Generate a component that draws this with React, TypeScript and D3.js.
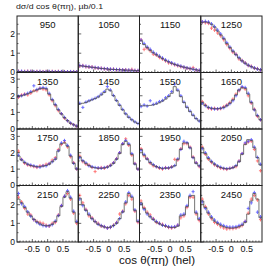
import React from "react";
import * as d3 from "d3";

const energies = ["950","1050","1150","1250","1350","1450","1550","1650","1750","1850","1950","2050","2150","2250","2350","2450"];
const rowYMax = [2.93, 3.4, 3.45, 3.03];
const yTickLabels = [["0","1","2"],["0","1","2","3"],["0","1","2","3"],["0","1","2"]];
const xTickValues = [-0.5, 0, 0.5];
const xTickLabels = ["-0.5", "0", "0.5"];
const binCenters = d3.range(20).map((i) => -0.95 + i * 0.1);

const hist950 = [0.05,0.05,0.05,0.05,0.04,0.04,0.04,0.04,0.04,0.04,0.04,0.04,0.04,0.04,0.03,0.03,0.03,0.03,0.03,0.03];
const red950 = [0.06,0.04,0.05,0.06,0.05,0.03,0.05,0.04,0.04,0.05,0.03,0.05,0.04,0.05,0.03,0.04,0.03,0.02,0.04,0.03];
const blue950 = [0.05,0.06,0.04,0.05,0.05,0.04,0.04,0.05,0.03,0.04,0.05,0.04,0.03,0.04,0.04,0.03,0.03,0.04,0.03,0.03];

const hist1050 = [0.35,0.33,0.31,0.29,0.27,0.25,0.23,0.21,0.2,0.18,0.17,0.16,0.15,0.14,0.13,0.12,0.12,0.11,0.1,0.1];
const red1050 = [0.33,0.36,0.3,0.28,0.29,0.24,0.22,0.22,0.19,0.18,0.16,0.17,0.14,0.15,0.13,0.14,0.11,0.16,0.1,0.09];
const blue1050 = [0.36,0.34,0.32,0.3,0.27,0.26,0.24,0.21,0.2,0.19,0.17,0.16,0.15,0.14,0.13,0.12,0.12,0.11,0.1,0.1];

const hist1150 = [1.65,1.45,1.3,1.15,1.02,0.92,0.82,0.72,0.63,0.55,0.48,0.42,0.37,0.32,0.28,0.24,0.2,0.17,0.14,0.11];
const red1150 = [1.7,1.2,1.25,1.12,0.95,0.9,0.78,0.7,0.6,0.5,0.46,0.4,0.35,0.3,0.26,0.22,0.19,0.25,0.13,0.1];
const blue1150 = [1.68,1.5,1.32,1.2,1.05,0.95,0.85,0.75,0.65,0.57,0.5,0.43,0.38,0.33,0.28,0.24,0.21,0.17,0.14,0.11];

const hist1250 = [2.6,2.62,2.6,2.5,2.35,2.15,1.95,1.75,1.5,1.3,1.1,0.92,0.75,0.6,0.48,0.38,0.3,0.23,0.18,0.14];
const red1250 = [2.62,2.58,2.55,2.3,2.2,2.05,1.9,1.7,1.45,1.25,1.05,0.95,0.7,0.62,0.5,0.36,0.32,0.22,0.2,0.13];
const blue1250 = [2.63,2.65,2.62,2.52,2.38,2.2,2.0,1.78,1.55,1.32,1.12,0.93,0.77,0.6,0.48,0.38,0.3,0.24,0.18,0.14];

const hist1350 = [1.95,2.0,2.05,2.12,2.2,2.28,2.35,2.42,2.45,2.42,2.1,1.75,1.45,1.15,0.9,0.68,0.5,0.35,0.25,0.17];
const red1350 = [1.9,2.05,2.1,2.05,2.15,2.3,2.3,2.45,2.4,2.35,2.05,1.7,1.4,1.1,0.92,0.65,0.5,0.33,0.26,0.16];
const blue1350 = [1.97,2.0,2.08,2.15,2.25,2.6,2.38,2.45,2.5,2.45,2.15,1.78,1.48,1.18,0.92,0.7,0.5,0.36,0.25,0.18];

const hist1450 = [1.5,1.55,1.6,1.68,1.75,1.83,1.92,2.05,2.2,2.4,2.3,2.0,1.7,1.42,1.15,0.9,0.7,0.55,0.42,0.33];
const red1450: number[] = [];
const blue1450 = [1.55,1.3,1.62,1.7,1.78,1.85,1.95,2.1,2.25,2.55,2.35,2.02,1.72,1.45,1.18,0.92,0.72,0.56,0.43,0.33];

const hist1550 = [1.4,1.4,1.4,1.42,1.45,1.5,1.58,1.68,1.8,1.95,2.15,2.55,2.3,1.95,1.6,1.3,1.05,0.82,0.62,0.48];
const red1550: number[] = [];
const blue1550 = [1.35,1.45,1.38,1.7,1.48,1.55,1.65,1.72,1.88,2.0,2.25,2.7,2.35,2.0,1.62,1.32,1.08,0.84,0.63,0.48];

const hist1650 = [1.6,1.42,1.3,1.25,1.22,1.22,1.25,1.3,1.4,1.55,1.75,2.05,2.35,2.48,2.45,2.1,1.6,1.15,0.8,0.55];
const red1650 = [1.65,1.45,1.25,1.2,1.25,1.2,1.22,1.35,1.45,1.6,1.8,2.1,2.3,2.5,2.4,2.0,1.55,1.2,0.75,0.55];
const blue1650 = [1.55,1.4,1.3,1.25,1.2,1.22,1.25,1.28,1.4,1.52,1.7,2.0,2.35,2.55,2.5,2.15,1.62,1.15,0.82,0.56];

const hist1750 = [1.8,1.55,1.4,1.3,1.22,1.18,1.15,1.15,1.18,1.22,1.3,1.45,1.6,2.1,2.55,2.6,2.4,1.8,1.35,1.0];
const red1750 = [2.1,1.6,1.35,1.25,1.2,1.15,1.1,1.2,1.22,1.3,1.35,1.55,1.7,2.2,2.5,2.65,2.35,1.75,1.4,1.0];
const blue1750 = [1.85,1.58,1.42,1.3,1.25,1.2,1.15,1.12,1.2,1.2,1.32,1.45,1.62,2.12,2.6,2.75,2.45,1.85,1.35,1.02];

const hist1850 = [1.75,1.5,1.35,1.22,1.12,1.08,1.05,1.05,1.07,1.12,1.2,1.35,1.6,1.95,2.5,2.7,2.5,1.9,1.3,1.0];
const red1850 = [1.8,1.45,1.3,1.25,1.1,0.85,1.05,1.1,1.05,1.15,1.25,1.4,1.65,2.0,2.55,2.85,2.45,1.85,1.35,1.0];
const blue1850 = [1.7,1.52,1.38,1.2,1.15,1.1,1.08,1.05,1.1,1.12,1.22,1.38,1.62,2.0,2.55,2.75,2.55,1.95,1.32,1.0];

const hist1950 = [2.2,1.85,1.6,1.4,1.25,1.15,1.08,1.05,1.05,1.07,1.12,1.2,1.6,2.2,2.6,2.6,2.3,1.7,1.35,1.2];
const red1950 = [2.25,1.8,1.65,1.35,1.2,1.15,1.05,1.0,1.1,1.05,1.15,1.6,1.55,2.25,2.55,2.55,2.35,1.75,1.4,1.15];
const blue1950 = [2.15,1.9,1.62,1.42,1.28,1.15,1.1,1.05,1.07,1.08,1.12,1.22,1.62,2.2,2.7,2.62,2.3,1.7,1.38,1.2];

const hist2050 = [2.3,1.95,1.65,1.45,1.3,1.18,1.1,1.05,1.02,1.03,1.08,1.2,1.45,1.9,2.5,2.8,2.75,2.3,1.7,1.25];
const red2050 = [2.35,1.9,1.6,1.4,1.25,1.15,1.05,1.02,0.98,1.05,1.1,1.15,1.5,1.95,2.55,2.65,2.7,2.2,1.5,0.9];
const blue2050 = [2.25,2.0,1.7,1.48,1.32,1.2,1.12,1.05,1.03,1.05,1.1,1.22,1.48,1.95,2.6,2.7,2.8,2.35,1.72,1.3];

const hist2150 = [2.3,2.1,1.85,1.6,1.4,1.22,1.08,0.97,0.9,0.87,0.88,0.95,1.1,1.4,1.9,2.4,2.7,2.35,1.6,1.05];
const red2150 = [2.4,2.15,1.8,1.5,1.45,1.2,1.1,1.05,1.0,0.9,0.85,1.0,1.05,1.45,1.95,2.45,2.6,2.3,1.55,1.0];
const blue2150 = [2.6,2.05,1.9,1.62,1.38,1.2,1.05,0.95,0.88,0.85,0.87,0.93,1.12,1.42,1.95,2.45,2.75,2.4,1.65,1.1];

const hist2250 = [2.35,2.0,1.7,1.45,1.25,1.08,0.95,0.87,0.8,0.77,0.8,0.88,1.0,1.25,1.6,2.1,2.6,2.4,1.7,1.1];
const red2250 = [2.5,2.1,1.75,1.4,1.3,1.1,1.0,0.85,0.82,0.75,0.78,0.9,1.05,1.5,1.65,2.05,2.5,2.3,1.65,1.05];
const blue2250 = [2.3,1.95,1.7,1.5,1.25,1.1,0.95,0.88,0.82,0.75,0.8,0.88,1.02,1.25,1.62,2.15,2.65,2.45,1.72,1.12];

const hist2350 = [2.1,1.8,1.55,1.35,1.2,1.07,0.97,0.9,0.85,0.8,0.78,0.78,0.85,1.4,1.45,1.9,2.45,2.5,1.55,1.2];
const red2350 = [2.2,1.85,1.6,1.45,1.25,1.05,1.0,0.95,0.85,0.78,0.75,0.8,0.9,1.3,1.4,1.85,2.4,2.4,1.5,1.15];
const blue2350 = [2.05,1.75,1.5,1.35,1.22,1.1,1.0,0.9,0.88,0.82,0.8,0.82,0.9,1.45,1.5,1.95,2.5,2.7,1.6,1.25];

const hist2450 = [2.2,1.85,1.55,1.3,1.12,1.0,0.9,0.82,0.77,0.75,0.75,0.77,0.82,0.9,1.05,1.5,2.2,2.6,2.3,1.3];
const red2450 = [2.3,1.9,1.5,1.25,1.05,0.95,0.82,0.75,0.7,0.72,0.72,0.75,0.8,0.88,1.1,1.55,2.3,2.5,2.25,1.2];
const blue2450 = [2.15,1.8,1.6,1.35,1.18,1.05,0.95,0.88,0.82,0.8,0.8,0.82,0.88,0.95,1.1,1.8,2.1,2.65,1.6,1.35];

const histSeries = [hist950,hist1050,hist1150,hist1250,hist1350,hist1450,hist1550,hist1650,hist1750,hist1850,hist1950,hist2050,hist2150,hist2250,hist2350,hist2450];
const redSeries = [red950,red1050,red1150,red1250,red1350,red1450,red1550,red1650,red1750,red1850,red1950,red2050,red2150,red2250,red2350,red2450];
const blueSeries = [blue950,blue1050,blue1150,blue1250,blue1350,blue1450,blue1550,blue1650,blue1750,blue1850,blue1950,blue2050,blue2150,blue2250,blue2350,blue2450];

const W = 266, H = 266;
const L = 17, R = 262, T = 16, B = 242;
const NC = 4, NR = 4;
const pw = (R - L) / NC;
const ph = (B - T) / NR;
const FONT = "'Liberation Sans', Arial, Helvetica, sans-serif";
const RED = "#ff4040";
const BLUE = "#3c3cff";
const HIST = "#4a4a4a";

function Panel({ idx }: { idx: number }) {
  const col = idx % NC, row = Math.floor(idx / NC);
  const x0 = L + col * pw, y0 = T + row * ph;
  const x = d3.scaleLinear().domain([-1, 1]).range([x0, x0 + pw]);
  const y = d3.scaleLinear().domain([0, rowYMax[row]]).range([y0 + ph, y0]);
  const hist = histSeries[idx];
  const pts: [number, number][] = hist.map((v, i) => [binCenters[i] - 0.05, v]);
  pts.push([1, hist[hist.length - 1]]);
  const line = d3.line<[number, number]>().x((d) => x(d[0])).y((d) => y(d[1])).curve(d3.curveStepAfter);
  const err = 0.07;
  const cross = (vals: number[], color: string, key: string, op: number) =>
    vals.map((v, i) => {
      const cx = x(binCenters[i]);
      const cy = y(v);
      return (
        <g key={key + i} stroke={color} strokeWidth={1} opacity={op}>
          <line x1={x(binCenters[i] - 0.05)} x2={x(binCenters[i] + 0.05)} y1={cy} y2={cy} />
          <line x1={cx} x2={cx} y1={y(v + err) - 0.5} y2={y(v - err) + 0.5} />
        </g>
      );
    });
  const yMinor = d3.range(0, rowYMax[row], 0.5);
  const xMinor = d3.range(-0.9, 1.0, 0.1);
  return (
    <g>
      <defs>
        <clipPath id={"clip" + idx}>
          <rect x={x0} y={y0} width={pw} height={ph} />
        </clipPath>
      </defs>
      <g clipPath={`url(#clip${idx})`}>
        {cross(redSeries[idx], RED, "r", 0.7)}
        {cross(blueSeries[idx], BLUE, "b", 0.75)}
        <path d={line(pts) || ""} fill="none" stroke={HIST} strokeWidth={0.9} opacity={0.85} />
      </g>
      {yMinor.map((t, i) => (
        <line key={"ym" + i} x1={x0} x2={x0 + (Math.abs(t - Math.round(t)) < 1e-6 ? 3 : 1.5)} y1={y(t)} y2={y(t)} stroke="#000" strokeWidth={0.6} />
      ))}
      {xMinor.map((t, i) => (
        <line key={"xm" + i} x1={x(t)} x2={x(t)} y1={y0 + ph} y2={y0 + ph - (Math.abs(t * 2 - Math.round(t * 2)) < 1e-6 ? 3 : 1.5)} stroke="#000" strokeWidth={0.6} />
      ))}
      <rect x={x0} y={y0} width={pw} height={ph} fill="none" stroke="#222" strokeWidth={1} />
      <text x={x0 + pw / 2} y={y0 + 12} textAnchor="middle" fontSize={9.5} fontFamily={FONT} fill="#111">{energies[idx]}</text>
    </g>
  );
}

export default function App() {
  return (
    <svg width={W} height={H} style={{ position: "absolute", left: 0, top: 0, background: "#fff" }}>
      <rect x={0} y={0} width={W} height={H} fill="#fff" />
      {energies.map((e, i) => <Panel key={e} idx={i} />)}
      {rowYMax.map((ym, r) => {
        const y = d3.scaleLinear().domain([0, ym]).range([T + (r + 1) * ph, T + r * ph]);
        return yTickLabels[r].map((lab) => (
          <text key={r + "-" + lab} x={15} y={y(+lab) + (lab === "3" ? 4 : lab === "0" ? 2.6 : 3)} textAnchor="end" fontSize={8.5} fontFamily={FONT} fill="#111">{lab}</text>
        ));
      })}
      {d3.range(NC).map((c) => {
        const x = d3.scaleLinear().domain([-1, 1]).range([L + c * pw, L + (c + 1) * pw]);
        return xTickValues.map((t, i) => (
          <text key={c + "x" + i} x={x(t)} y={252} textAnchor="middle" fontSize={9} fontFamily={FONT} fill="#111">{xTickLabels[i]}</text>
        ));
      })}
      <text x={16} y={8.5} fontSize={8} textLength={87} lengthAdjust="spacingAndGlyphs" fontFamily={FONT} fill="#222">dσ/d cos θ(πη), µb/0.1</text>
      <text x={119} y={263.5} fontSize={11.5} textLength={76} lengthAdjust="spacingAndGlyphs" fontFamily={FONT} fill="#111">cos θ(πη) (hel)</text>
    </svg>
  );
}
